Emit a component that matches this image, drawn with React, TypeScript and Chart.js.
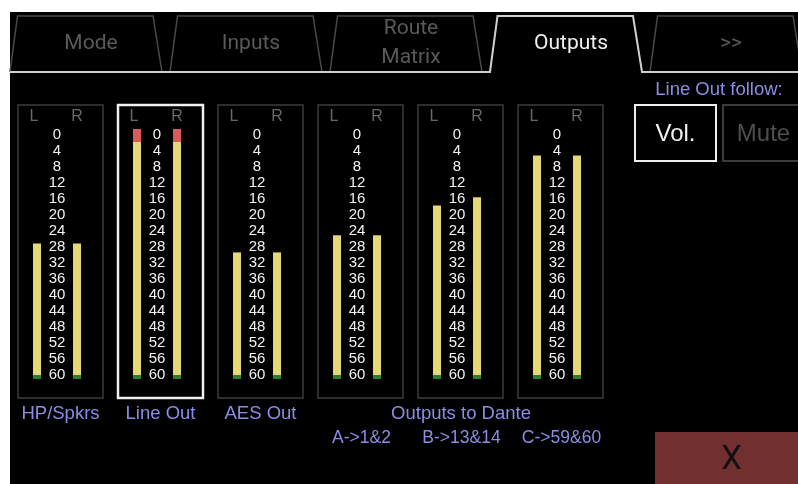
import React, { useEffect, useRef } from "react";
import { Chart, registerables } from "chart.js";

Chart.register(...registerables);

// ---- data ----
const meterNames = ["HP/Spkrs", "Line Out", "AES Out", "A->1&2", "B->13&14", "C->59&60"];
const groupTitle = "Outputs to Dante";
const groupStart = 3; // meters from this index belong to the Dante group
const levelL = [27.4, -1.25, 29.6, 25.3, 17.9, 5.4];
const levelR = [27.4, -1.25, 29.6, 25.3, 15.8, 5.4];
const scaleTicks = [0, 4, 8, 12, 16, 20, 24, 28, 32, 36, 40, 44, 48, 52, 56, 60];
const tabNames = ["Mode", "Inputs", "Route\nMatrix", "Outputs", ">>"];
const activeTab = 3;
const selectedMeter = 1;
const followLabel = "Line Out follow:";
const followOptions = ["Vol.", "Mute"];
const followActive = 0;
const closeLabel = "X";

const RED_ZONE = 2;
const FLOOR = 60.25;
const BASE = 61.25;

const YELLOW = "#e3d976";
const RED = "#d95a5a";
const GREEN = "#2f7d32";
const PURPLE = "#8c8ce4";

function segGreen(levels: number[]) {
  return levels.map(() => [BASE, FLOOR]);
}
function segYellow(levels: number[]) {
  return levels.map((v) => [FLOOR, Math.max(v, RED_ZONE)]);
}
function segRed(levels: number[]) {
  return levels.map((v) => (v < RED_ZONE ? [RED_ZONE, v] : null));
}

const decorPlugin = {
  id: "decor",
  beforeDraw(chart: any) {
    const ctx: CanvasRenderingContext2D = chart.ctx;
    const W = chart.width;
    const H = chart.height;
    ctx.save();
    ctx.fillStyle = "#ffffff";
    ctx.fillRect(0, 0, W, H);
    ctx.fillStyle = "#000000";
    ctx.fillRect(10, 12, W - 10, H - 12);

    // tabs
    const baseY = 72;
    const topY = 16;
    tabNames.forEach((name, i) => {
      if (i === activeTab) return;
      const bl = 10 + 160 * i;
      ctx.beginPath();
      ctx.moveTo(bl, baseY);
      ctx.lineTo(bl + 7.5, topY);
      ctx.lineTo(bl + 143, topY);
      ctx.lineTo(bl + 152, baseY);
      ctx.strokeStyle = "#4a4a4a";
      ctx.lineWidth = 1.5;
      ctx.stroke();
    });
    const abl = 10 + 160 * activeTab;
    ctx.beginPath();
    ctx.moveTo(10, baseY);
    ctx.lineTo(abl, baseY);
    ctx.lineTo(abl + 7.5, topY);
    ctx.lineTo(abl + 143, topY);
    ctx.lineTo(abl + 152, baseY);
    ctx.lineTo(W, baseY);
    ctx.strokeStyle = "#d0d0d0";
    ctx.lineWidth = 2;
    ctx.stroke();

    ctx.textAlign = "center";
    ctx.textBaseline = "middle";
    ctx.font = "21px Roboto";
    tabNames.forEach((name, i) => {
      const cx = 10 + 160 * i + 81;
      ctx.fillStyle = i === activeTab ? "#f0f0f0" : "#5a5a5a";
      const lines = name.split("\n");
      if (lines.length === 1) ctx.fillText(lines[0], cx, 44);
      else {
        ctx.fillText(lines[0], cx, 29);
        ctx.fillText(lines[1], cx, 58);
      }
    });

    // meter boxes and scales
    const xs = chart.scales.x;
    const ys = chart.scales.y;
    const ca = chart.chartArea;
    meterNames.forEach((n, i) => {
      const c = xs.getPixelForValue(i);
      const left = c - 39;
      const top = ca.top - 21;
      const bottom = ca.bottom + 19;
      ctx.beginPath();
      ctx.rect(left, top, 85, bottom - top);
      if (i === selectedMeter) {
        ctx.strokeStyle = "#f0f0f0";
        ctx.lineWidth = 2.5;
      } else {
        ctx.strokeStyle = "#3d3d3d";
        ctx.lineWidth = 1.5;
      }
      ctx.stroke();

      ctx.font = "16px 'Liberation Sans'";
      ctx.fillStyle = "#686868";
      ctx.fillText("L", c - 23, top + 12);
      ctx.fillText("R", c + 20, top + 12);

      ctx.fillStyle = "#f2f2f2";
      ctx.font = "15px 'Liberation Sans'";
      scaleTicks.forEach((t) => {
        ctx.fillText(String(t), c, ys.getPixelForValue(t) + 0.5);
      });

      ctx.fillStyle = PURPLE;
      if (i < groupStart) {
        ctx.font = "18.5px 'Liberation Sans'";
        ctx.fillText(n, c + 3.5, bottom + 16);
      } else {
        ctx.font = "17.5px 'Liberation Sans'";
        ctx.fillText(n, c + 4.5, bottom + 40);
      }
    });
    const mid = Math.round((groupStart + meterNames.length - 1) / 2);
    ctx.font = "18.5px 'Liberation Sans'";
    ctx.fillStyle = PURPLE;
    ctx.fillText(groupTitle, xs.getPixelForValue(mid) + 4, ca.bottom + 35);

    // follow buttons
    ctx.font = "18.5px 'Liberation Sans'";
    ctx.fillText(followLabel, 719, 90);
    followOptions.forEach((o, i) => {
      const bx = 635 + 88 * i;
      ctx.beginPath();
      ctx.rect(bx, 105, 81, 56);
      ctx.strokeStyle = i === followActive ? "#eeeeee" : "#3c3c3c";
      ctx.lineWidth = 2;
      ctx.stroke();
      ctx.font = "24px 'Liberation Sans'";
      ctx.fillStyle = i === followActive ? "#f2f2f2" : "#4e4e4e";
      ctx.fillText(o, bx + 40.5, 134);
    });

    // close button
    ctx.fillStyle = "#722f30";
    ctx.fillRect(655, 432, W - 655, H - 432);
    ctx.fillStyle = "#111111";
    ctx.font = "33px Roboto";
    ctx.fillText(closeLabel, 731.5, 461);
    ctx.restore();
  },
};

export default function App() {
  const ref = useRef<HTMLCanvasElement | null>(null);
  useEffect(() => {
    if (!ref.current) return;
    const mk = (data: any, color: string, stack: string) => ({
      data,
      backgroundColor: color,
      borderWidth: 0,
      stack,
    });
    const chart = new Chart(ref.current, {
      type: "bar",
      data: {
        labels: meterNames,
        datasets: [
          mk(segGreen(levelL), GREEN, "L"),
          mk(segYellow(levelL), YELLOW, "L"),
          mk(segRed(levelL), RED, "L"),
          mk(segGreen(levelR), GREEN, "R"),
          mk(segYellow(levelR), YELLOW, "R"),
          mk(segRed(levelR), RED, "R"),
        ] as any,
      },
      options: {
        animation: false,
        responsive: false,
        devicePixelRatio: 1,
        layout: { padding: { left: 7, right: 191, top: 126, bottom: 105 } },
        datasets: { bar: { categoryPercentage: 0.8, barPercentage: 0.2 } },
        scales: {
          x: { type: "category", display: false, grid: { display: false } },
          y: { type: "linear", display: false, reverse: true, min: -2, max: BASE, stacked: false },
        },
        plugins: { legend: { display: false }, tooltip: { enabled: false } },
        events: [],
      } as any,
      plugins: [decorPlugin],
    });
    return () => chart.destroy();
  }, []);
  return (
    <div style={{ position: "fixed", left: 0, top: 0, width: 798, height: 484 }}>
      <canvas ref={ref} width={798} height={484} style={{ display: "block" }} />
    </div>
  );
}
